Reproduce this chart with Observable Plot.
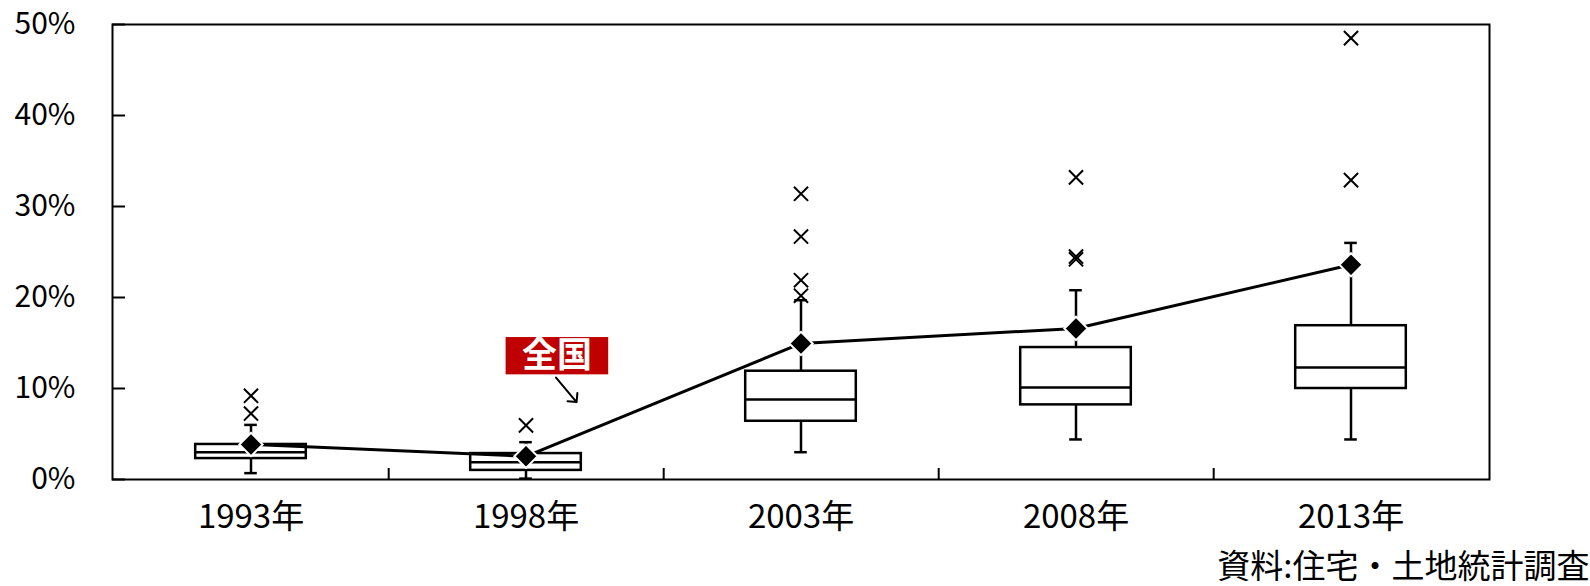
<!DOCTYPE html>
<html><head><meta charset="utf-8">
<script src="https://cdn.jsdelivr.net/npm/d3@7"></script>
<script src="https://cdn.jsdelivr.net/npm/@observablehq/plot@0.6"></script>
<style>
body{margin:0;overflow:hidden;background:#fff}
#chart svg{font-family:"Noto Sans CJK JP","Noto Sans",sans-serif;overflow:visible}
</style>
</head><body><div id="chart"></div>
<script>
// ---- data (percent) ----
const years = ["1993年", "1998年", "2003年", "2008年", "2013年"];
const whiskerLow  = [0.7, 0.1, 3.0, 4.4, 4.4];
const q1          = [2.3, 1.0, 6.4, 8.2, 10.0];
const median      = [3.0, 1.9, 8.8, 10.1, 12.3];
const q3          = [3.85, 2.85, 11.9, 14.5, 16.9];
const whiskerHigh = [6.0, 4.1, 19.7, 20.8, 26.0];
const national    = [3.85, 2.55, 14.95, 16.6, 23.6];
const outlierYears  = ["1993年","1993年","1998年","2003年","2003年","2003年","2003年","2008年","2008年","2008年","2013年","2013年"];
const outlierValues = [7.25, 9.2, 5.95, 20.2, 21.9, 26.7, 31.4, 24.2, 24.5, 33.2, 32.9, 48.5];
const yTicks = [0, 10, 20, 30, 40, 50];
const labelText = "全国";
const labelYear = "1998年";
const labelLow = 11.5, labelHigh = 15.6, labelMid = 13.55, arrowStart = 11.2;
const caption = "資料:住宅・土地統計調査";

const rows = years.map((year, i) => ({year, lo: whiskerLow[i], q1: q1[i], med: median[i], q3: q3[i], hi: whiskerHigh[i], national: national[i]}));
const outliers = outlierYears.map((year, i) => ({year, value: outlierValues[i]}));

// ---- layout ----
const W = 1590, H = 586, mL = 112, mR = 101, mT = 24, mB = 107;
const plotW = W - mL - mR, plotH = H - mT - mB;
const bw = plotW / years.length;
const boxInset = (bw - 111) / 2, capInset = (bw - 13) / 2;

const chart = Plot.plot({
  width: W, height: H,
  marginLeft: mL, marginRight: mR, marginTop: mT, marginBottom: mB,
  style: {background: "white", color: "black"},
  x: {type: "band", domain: years, padding: 0, label: null},
  y: {domain: [0, 50], label: null},
  marks: [
    Plot.axisY({ticks: yTicks, tickFormat: d => d + "%", tickSize: 0, tickPadding: 37, fontSize: 30, label: null}),
    Plot.tickY(yTicks, {y: d => d, insetRight: plotW - 13, stroke: "black", strokeWidth: 2}),
    Plot.axisX({tickSize: 0, tickPadding: 25, fontSize: 33, label: null}),
    Plot.tickX(years.slice(0, -1), {x: d => d, dx: bw / 2, insetTop: plotH - 11, stroke: "black", strokeWidth: 2}),
    Plot.ruleX(rows, {x: "year", y1: "lo", y2: "q1", stroke: "black", strokeWidth: 2.5}),
    Plot.ruleX(rows, {x: "year", y1: "q3", y2: "hi", stroke: "black", strokeWidth: 2.5}),
    Plot.tickY(rows, {x: "year", y: "lo", insetLeft: capInset, insetRight: capInset, stroke: "black", strokeWidth: 2.5}),
    Plot.tickY(rows, {x: "year", y: "hi", insetLeft: capInset, insetRight: capInset, stroke: "black", strokeWidth: 2.5}),
    Plot.barY(rows, {x: "year", y1: "q1", y2: "q3", insetLeft: boxInset, insetRight: boxInset, fill: "white", stroke: "black", strokeWidth: 2.5}),
    Plot.tickY(rows, {x: "year", y: "med", insetLeft: boxInset, insetRight: boxInset, stroke: "black", strokeWidth: 2.5}),
    Plot.dot(outliers, {x: "year", y: "value", symbol: "times", r: 6.5, stroke: "black", strokeWidth: 2}),
    Plot.line(rows, {x: "year", y: "national", stroke: "black", strokeWidth: 3}),
    Plot.dot(rows, {x: "year", y: "national", symbol: "diamond2", r: 10.5, fill: "black", stroke: "white", strokeWidth: 2}),
    Plot.frame({stroke: "black", strokeWidth: 2}),
    // annotation label
    Plot.barY([0], {x: () => labelYear, y1: () => labelLow, y2: () => labelHigh, insetLeft: 117.6, insetRight: 54.8, fill: "#C00000"}),
    Plot.text([labelText], {x: () => labelYear, y: () => labelMid, dx: 31, text: d => d, fill: "white", fontWeight: "bold", fontSize: 35}),
    Plot.vector([0], {x: () => labelYear, y: () => arrowStart, dx: 30, length: 32, rotate: 140, anchor: "start", shape: "arrow", stroke: "black", strokeWidth: 2}),
    // caption
    Plot.text([caption], {frameAnchor: "bottom-right", dx: 100, dy: 98, text: d => d, textAnchor: "end", fontSize: 33, fill: "black"})
  ]
});
document.getElementById("chart").appendChild(chart);
</script>
</body></html>
